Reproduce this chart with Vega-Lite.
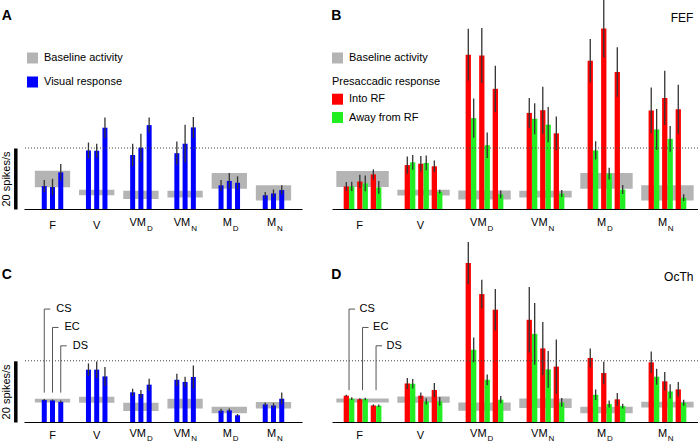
{
  "$schema": "https://vega.github.io/schema/vega-lite/v6.json",
  "padding": 0,
  "background": "white",
  "config": {
    "view": {"stroke": null},
    "font": "Liberation Sans",
    "text": {"font": "Liberation Sans", "fontSize": 11, "color": "#000"},
    "legend": {"labelFont": "Liberation Sans", "titleFont": "Liberation Sans", "labelLimit": 300}
  },
  "datasets": {
    "labels": [
      {"group": "F", "main": "F", "sub": ""},
      {"group": "V", "main": "V", "sub": ""},
      {"group": "VMD", "main": "VM", "sub": "D"},
      {"group": "VMN", "main": "VM", "sub": "N"},
      {"group": "MD", "main": "M", "sub": "D"},
      {"group": "MN", "main": "M", "sub": "N"}
    ],
    "aBars": [
      {"group": "F", "cond": "CS", "v": 7.5, "lo": 5.6, "hi": 9.5},
      {"group": "F", "cond": "EC", "v": 7.2, "lo": 4.5, "hi": 9.9},
      {"group": "F", "cond": "DS", "v": 12.0, "lo": 9.25, "hi": 14.75},
      {"group": "V", "cond": "CS", "v": 19.2, "lo": 16.6, "hi": 21.8},
      {"group": "V", "cond": "EC", "v": 19.1, "lo": 16.8, "hi": 21.4},
      {"group": "V", "cond": "DS", "v": 26.65, "lo": 23.3, "hi": 30.0},
      {"group": "VMD", "cond": "CS", "v": 17.7, "lo": 14.0, "hi": 21.4},
      {"group": "VMD", "cond": "EC", "v": 20.1, "lo": 15.5, "hi": 24.7},
      {"group": "VMD", "cond": "DS", "v": 27.5, "lo": 25.0, "hi": 30.0},
      {"group": "VMN", "cond": "CS", "v": 18.3, "lo": 14.5, "hi": 22.1},
      {"group": "VMN", "cond": "EC", "v": 21.4, "lo": 15.2, "hi": 27.6},
      {"group": "VMN", "cond": "DS", "v": 26.75, "lo": 23.3, "hi": 30.2},
      {"group": "MD", "cond": "CS", "v": 7.75, "lo": 6.0, "hi": 9.5},
      {"group": "MD", "cond": "EC", "v": 9.2, "lo": 6.6, "hi": 11.8},
      {"group": "MD", "cond": "DS", "v": 8.6, "lo": 6.5, "hi": 10.7},
      {"group": "MN", "cond": "CS", "v": 4.5, "lo": 3.4, "hi": 5.6},
      {"group": "MN", "cond": "EC", "v": 5.1, "lo": 3.8, "hi": 6.4},
      {"group": "MN", "cond": "DS", "v": 6.2, "lo": 4.7, "hi": 7.75}
    ],
    "aBase": [
      {"group": "F", "lo": 7.1, "hi": 12.5},
      {"group": "V", "lo": 4.5, "hi": 6.3},
      {"group": "VMD", "lo": 3.3, "hi": 6.0},
      {"group": "VMN", "lo": 3.8, "hi": 6.0},
      {"group": "MD", "lo": 6.6, "hi": 11.8},
      {"group": "MN", "lo": 2.8, "hi": 7.75}
    ],
    "bBars": [
      {"group": "F", "k": "CS into", "dir": "Into RF", "v": 7.4, "lo": 5.95, "hi": 8.85},
      {"group": "F", "k": "CS away", "dir": "Away from RF", "v": 7.4, "lo": 5.9, "hi": 8.9},
      {"group": "F", "k": "EC into", "dir": "Into RF", "v": 9.05, "lo": 6.85, "hi": 11.25},
      {"group": "F", "k": "EC away", "dir": "Away from RF", "v": 8.4, "lo": 5.8, "hi": 11.0},
      {"group": "F", "k": "DS into", "dir": "Into RF", "v": 11.35, "lo": 9.7, "hi": 13.0},
      {"group": "F", "k": "DS away", "dir": "Away from RF", "v": 7.1, "lo": 5.0, "hi": 9.2},
      {"group": "V", "k": "CS into", "dir": "Into RF", "v": 14.4, "lo": 11.55, "hi": 17.25},
      {"group": "V", "k": "CS away", "dir": "Away from RF", "v": 15.3, "lo": 12.9, "hi": 17.7},
      {"group": "V", "k": "EC into", "dir": "Into RF", "v": 14.85, "lo": 12.3, "hi": 17.4},
      {"group": "V", "k": "EC away", "dir": "Away from RF", "v": 15.1, "lo": 12.7, "hi": 17.5},
      {"group": "V", "k": "DS into", "dir": "Into RF", "v": 14.0, "lo": 12.1, "hi": 15.9},
      {"group": "V", "k": "DS away", "dir": "Away from RF", "v": 5.7, "lo": 5.1, "hi": 6.3},
      {"group": "VMD", "k": "CS into", "dir": "Into RF", "v": 50.6, "lo": 42.1, "hi": 59.1},
      {"group": "VMD", "k": "CS away", "dir": "Away from RF", "v": 29.8, "lo": 23.4, "hi": 36.2},
      {"group": "VMD", "k": "EC into", "dir": "Into RF", "v": 50.3, "lo": 41.3, "hi": 59.3},
      {"group": "VMD", "k": "EC away", "dir": "Away from RF", "v": 20.9, "lo": 16.7, "hi": 25.1},
      {"group": "VMD", "k": "DS into", "dir": "Into RF", "v": 39.4, "lo": 31.8, "hi": 47.0},
      {"group": "VMD", "k": "DS away", "dir": "Away from RF", "v": 4.8, "lo": 3.5, "hi": 6.1},
      {"group": "VMN", "k": "CS into", "dir": "Into RF", "v": 31.5, "lo": 26.6, "hi": 36.4},
      {"group": "VMN", "k": "CS away", "dir": "Away from RF", "v": 29.6, "lo": 24.5, "hi": 34.7},
      {"group": "VMN", "k": "EC into", "dir": "Into RF", "v": 32.4, "lo": 24.7, "hi": 40.1},
      {"group": "VMN", "k": "EC away", "dir": "Away from RF", "v": 27.65, "lo": 21.9, "hi": 33.4},
      {"group": "VMN", "k": "DS into", "dir": "Into RF", "v": 24.8, "lo": 19.3, "hi": 30.3},
      {"group": "VMN", "k": "DS away", "dir": "Away from RF", "v": 5.05, "lo": 3.9, "hi": 6.2},
      {"group": "MD", "k": "CS into", "dir": "Into RF", "v": 48.6, "lo": 41.5, "hi": 55.7},
      {"group": "MD", "k": "CS away", "dir": "Away from RF", "v": 19.2, "lo": 16.2, "hi": 22.2},
      {"group": "MD", "k": "EC into", "dir": "Into RF", "v": 59.2, "lo": 49.7, "hi": 70.0},
      {"group": "MD", "k": "EC away", "dir": "Away from RF", "v": 11.6, "lo": 9.7, "hi": 13.5},
      {"group": "MD", "k": "DS into", "dir": "Into RF", "v": 44.9, "lo": 36.8, "hi": 53.0},
      {"group": "MD", "k": "DS away", "dir": "Away from RF", "v": 6.4, "lo": 4.9, "hi": 7.9},
      {"group": "MN", "k": "CS into", "dir": "Into RF", "v": 32.3, "lo": 24.8, "hi": 39.8},
      {"group": "MN", "k": "CS away", "dir": "Away from RF", "v": 26.1, "lo": 19.4, "hi": 32.8},
      {"group": "MN", "k": "EC into", "dir": "Into RF", "v": 36.4, "lo": 27.5, "hi": 45.3},
      {"group": "MN", "k": "EC away", "dir": "Away from RF", "v": 23.0, "lo": 18.8, "hi": 27.2},
      {"group": "MN", "k": "DS into", "dir": "Into RF", "v": 32.7, "lo": 24.7, "hi": 40.7},
      {"group": "MN", "k": "DS away", "dir": "Away from RF", "v": 3.7, "lo": 2.6, "hi": 4.8}
    ],
    "bBase": [
      {"group": "F", "lo": 7.2, "hi": 12.45},
      {"group": "V", "lo": 4.4, "hi": 6.3},
      {"group": "VMD", "lo": 3.15, "hi": 6.1},
      {"group": "VMN", "lo": 3.8, "hi": 6.0},
      {"group": "MD", "lo": 6.65, "hi": 11.8},
      {"group": "MN", "lo": 2.8, "hi": 7.75}
    ],
    "cBars": [
      {"group": "F", "cond": "CS", "v": 7.2, "lo": 6.9, "hi": 7.5},
      {"group": "F", "cond": "EC", "v": 7.05, "lo": 6.75, "hi": 7.35},
      {"group": "F", "cond": "DS", "v": 6.6, "lo": 6.2, "hi": 7.0},
      {"group": "V", "cond": "CS", "v": 17.1, "lo": 15.1, "hi": 19.15},
      {"group": "V", "cond": "EC", "v": 17.1, "lo": 14.4, "hi": 19.8},
      {"group": "V", "cond": "DS", "v": 14.9, "lo": 11.8, "hi": 18.0},
      {"group": "VMD", "cond": "CS", "v": 9.7, "lo": 8.5, "hi": 10.9},
      {"group": "VMD", "cond": "EC", "v": 9.15, "lo": 7.85, "hi": 10.45},
      {"group": "VMD", "cond": "DS", "v": 12.2, "lo": 10.25, "hi": 14.15},
      {"group": "VMN", "cond": "CS", "v": 13.8, "lo": 11.8, "hi": 15.8},
      {"group": "VMN", "cond": "EC", "v": 13.1, "lo": 11.4, "hi": 14.8},
      {"group": "VMN", "cond": "DS", "v": 14.7, "lo": 10.9, "hi": 18.5},
      {"group": "MD", "cond": "CS", "v": 3.7, "lo": 3.05, "hi": 4.35},
      {"group": "MD", "cond": "EC", "v": 3.8, "lo": 3.15, "hi": 4.45},
      {"group": "MD", "cond": "DS", "v": 2.2, "lo": 1.8, "hi": 2.6},
      {"group": "MN", "cond": "CS", "v": 5.75, "lo": 5.1, "hi": 6.4},
      {"group": "MN", "cond": "EC", "v": 5.4, "lo": 4.6, "hi": 6.2},
      {"group": "MN", "cond": "DS", "v": 7.6, "lo": 5.6, "hi": 9.6}
    ],
    "cBase": [
      {"group": "F", "lo": 6.4, "hi": 7.6},
      {"group": "V", "lo": 6.3, "hi": 8.27},
      {"group": "VMD", "lo": 3.6, "hi": 6.3},
      {"group": "VMN", "lo": 4.45, "hi": 7.6},
      {"group": "MD", "lo": 2.9, "hi": 5.0},
      {"group": "MN", "lo": 4.45, "hi": 6.5}
    ],
    "dBars": [
      {"group": "F", "k": "CS into", "dir": "Into RF", "v": 8.6, "lo": 8.3, "hi": 8.9},
      {"group": "F", "k": "CS away", "dir": "Away from RF", "v": 7.6, "lo": 7.2, "hi": 8.05},
      {"group": "F", "k": "EC into", "dir": "Into RF", "v": 7.4, "lo": 7.0, "hi": 7.8},
      {"group": "F", "k": "EC away", "dir": "Away from RF", "v": 7.5, "lo": 7.1, "hi": 7.9},
      {"group": "F", "k": "DS into", "dir": "Into RF", "v": 5.4, "lo": 5.05, "hi": 5.75},
      {"group": "F", "k": "DS away", "dir": "Away from RF", "v": 5.3, "lo": 4.9, "hi": 5.7},
      {"group": "V", "k": "CS into", "dir": "Into RF", "v": 12.6, "lo": 10.8, "hi": 14.4},
      {"group": "V", "k": "CS away", "dir": "Away from RF", "v": 12.5, "lo": 10.95, "hi": 14.05},
      {"group": "V", "k": "EC into", "dir": "Into RF", "v": 8.6, "lo": 7.6, "hi": 9.6},
      {"group": "V", "k": "EC away", "dir": "Away from RF", "v": 6.75, "lo": 5.7, "hi": 7.8},
      {"group": "V", "k": "DS into", "dir": "Into RF", "v": 10.45, "lo": 8.15, "hi": 12.75},
      {"group": "V", "k": "DS away", "dir": "Away from RF", "v": 6.75, "lo": 5.3, "hi": 8.2},
      {"group": "VMD", "k": "CS into", "dir": "Into RF", "v": 51.95, "lo": 45.05, "hi": 58.85},
      {"group": "VMD", "k": "CS away", "dir": "Away from RF", "v": 23.6, "lo": 19.55, "hi": 27.65},
      {"group": "VMD", "k": "EC into", "dir": "Into RF", "v": 41.8, "lo": 37.1, "hi": 46.5},
      {"group": "VMD", "k": "EC away", "dir": "Away from RF", "v": 13.8, "lo": 12.05, "hi": 15.55},
      {"group": "VMD", "k": "DS into", "dir": "Into RF", "v": 36.7, "lo": 29.9, "hi": 43.5},
      {"group": "VMD", "k": "DS away", "dir": "Away from RF", "v": 7.3, "lo": 6.1, "hi": 8.5},
      {"group": "VMN", "k": "CS into", "dir": "Into RF", "v": 33.4, "lo": 22.7, "hi": 44.1},
      {"group": "VMN", "k": "CS away", "dir": "Away from RF", "v": 28.8, "lo": 18.7, "hi": 38.9},
      {"group": "VMN", "k": "EC into", "dir": "Into RF", "v": 24.05, "lo": 15.4, "hi": 32.7},
      {"group": "VMN", "k": "EC away", "dir": "Away from RF", "v": 17.2, "lo": 11.2, "hi": 23.2},
      {"group": "VMN", "k": "DS into", "dir": "Into RF", "v": 18.1, "lo": 9.2, "hi": 27.0},
      {"group": "VMN", "k": "DS away", "dir": "Away from RF", "v": 6.4, "lo": 4.95, "hi": 7.85},
      {"group": "MD", "k": "CS into", "dir": "Into RF", "v": 20.9, "lo": 17.8, "hi": 24.0},
      {"group": "MD", "k": "CS away", "dir": "Away from RF", "v": 8.9, "lo": 7.15, "hi": 10.65},
      {"group": "MD", "k": "EC into", "dir": "Into RF", "v": 16.0, "lo": 12.3, "hi": 19.7},
      {"group": "MD", "k": "EC away", "dir": "Away from RF", "v": 5.9, "lo": 4.75, "hi": 7.05},
      {"group": "MD", "k": "DS into", "dir": "Into RF", "v": 7.4, "lo": 5.3, "hi": 9.5},
      {"group": "MD", "k": "DS away", "dir": "Away from RF", "v": 5.2, "lo": 4.4, "hi": 6.0},
      {"group": "MN", "k": "CS into", "dir": "Into RF", "v": 19.5, "lo": 16.0, "hi": 23.0},
      {"group": "MN", "k": "CS away", "dir": "Away from RF", "v": 14.8, "lo": 12.2, "hi": 17.4},
      {"group": "MN", "k": "EC into", "dir": "Into RF", "v": 13.3, "lo": 10.3, "hi": 16.3},
      {"group": "MN", "k": "EC away", "dir": "Away from RF", "v": 10.0, "lo": 7.7, "hi": 12.3},
      {"group": "MN", "k": "DS into", "dir": "Into RF", "v": 10.65, "lo": 8.25, "hi": 13.05},
      {"group": "MN", "k": "DS away", "dir": "Away from RF", "v": 6.3, "lo": 5.3, "hi": 7.3}
    ],
    "dBase": [
      {"group": "F", "lo": 6.4, "hi": 7.7},
      {"group": "V", "lo": 6.3, "hi": 8.3},
      {"group": "VMD", "lo": 3.7, "hi": 6.4},
      {"group": "VMN", "lo": 4.6, "hi": 7.7},
      {"group": "MD", "lo": 2.9, "hi": 5.0},
      {"group": "MN", "lo": 4.7, "hi": 6.6}
    ],
    "annC": [
      {"group": "F", "cond": "CS", "bot": 9.6, "top": 36.9, "label": "CS"},
      {"group": "F", "cond": "EC", "bot": 9.6, "top": 30.9, "label": "EC"},
      {"group": "F", "cond": "DS", "bot": 9.6, "top": 24.9, "label": "DS"}
    ],
    "annD": [
      {"group": "F", "cond": "CS", "bot": 10.4, "top": 36.9, "label": "CS"},
      {"group": "F", "cond": "EC", "bot": 10.4, "top": 30.9, "label": "EC"},
      {"group": "F", "cond": "DS", "bot": 10.4, "top": 24.9, "label": "DS"}
    ]
  },
  "columns": 2,
  "spacing": {"row": 13, "column": 0},
  "bounds": "flush",
  "align": "each",
  "resolve": {
    "scale": {"color": "independent", "fill": "independent", "xOffset": "independent", "x": "independent", "y": "independent"},
    "legend": {"color": "independent", "fill": "independent"}
  },
  "concat": [
    {
      "width": 308,
      "height": 209,
      "resolve": {"scale": {"y": "independent"}, "axis": {"y": "independent"}},
      "layer": [
        {
          "layer": [
            {
              "data": {"name": "aBase"},
              "mark": {"type": "bar", "width": 35.3},
              "encoding": {
                "x": {"field": "group", "type": "nominal", "scale": {"domain": ["F", "V", "VMD", "VMN", "MD", "MN"], "range": [0, 278], "paddingInner": 0.44, "paddingOuter": 0.365}, "axis": {"labels": false, "ticks": false, "title": null, "grid": false, "domainColor": "#000", "domainWidth": 1}},
                "y": {"field": "lo", "type": "quantitative", "scale": {"domain": [0, 68.52], "nice": false, "zero": false}, "axis": null},
                "y2": {"field": "hi"},
                "color": {"datum": "Baseline activity", "type": "nominal", "scale": {"domain": ["Baseline activity", "Visual response"], "range": ["#b4b4b4", "#0000ff"]}, "legend": {"orient": "none", "legendX": 3, "legendY": 52.5, "title": null, "symbolType": "square", "symbolSize": 121, "symbolStrokeWidth": 0, "symbolOpacity": 1, "labelFontSize": 11, "labelColor": "#000", "labelOffset": 6, "rowPadding": 12, "padding": 0}}
              }
            },
            {
              "data": {"name": "aBars"},
              "mark": {"type": "bar", "width": 5},
              "encoding": {
                "x": {"field": "group", "type": "nominal"},
                "xOffset": {"field": "cond", "type": "nominal", "scale": {"domain": ["CS", "EC", "DS"], "paddingInner": 0, "paddingOuter": 0}},
                "y": {"field": "v", "type": "quantitative"},
                "color": {"datum": "Visual response", "type": "nominal"}
              }
            },
            {
              "data": {"name": "aBars"},
              "mark": {"type": "rule", "color": "#333", "strokeWidth": 1.3, "clip": true},
              "encoding": {
                "x": {"field": "group", "type": "nominal"},
                "xOffset": {"field": "cond", "type": "nominal"},
                "y": {"field": "lo", "type": "quantitative"},
                "y2": {"field": "hi"}
              }
            },
            {
              "data": {"name": "labels"},
              "transform": [{"filter": "datum.sub == ''"}],
              "mark": {"type": "text", "fontSize": 11, "align": "center", "baseline": "alphabetic", "dx": 0, "dy": 20},
              "encoding": {"x": {"field": "group", "type": "nominal"}, "y": {"datum": 0, "type": "quantitative"}, "text": {"field": "main"}}
            },
            {
              "data": {"name": "labels"},
              "transform": [{"filter": "datum.main == 'VM'"}],
              "mark": {"type": "text", "fontSize": 11, "align": "right", "baseline": "alphabetic", "dx": 5.1, "dy": 17.4},
              "encoding": {"x": {"field": "group", "type": "nominal"}, "y": {"datum": 0, "type": "quantitative"}, "text": {"field": "main"}}
            },
            {
              "data": {"name": "labels"},
              "transform": [{"filter": "datum.main == 'VM'"}],
              "mark": {"type": "text", "fontSize": 8, "align": "left", "baseline": "alphabetic", "dx": 6.1, "dy": 22.4},
              "encoding": {"x": {"field": "group", "type": "nominal"}, "y": {"datum": 0, "type": "quantitative"}, "text": {"field": "sub"}}
            },
            {
              "data": {"name": "labels"},
              "transform": [{"filter": "datum.main == 'M'"}],
              "mark": {"type": "text", "fontSize": 11, "align": "right", "baseline": "alphabetic", "dx": 2.7, "dy": 17.4},
              "encoding": {"x": {"field": "group", "type": "nominal"}, "y": {"datum": 0, "type": "quantitative"}, "text": {"field": "main"}}
            },
            {
              "data": {"name": "labels"},
              "transform": [{"filter": "datum.main == 'M'"}],
              "mark": {"type": "text", "fontSize": 8, "align": "left", "baseline": "alphabetic", "dx": 3.4, "dy": 22.4},
              "encoding": {"x": {"field": "group", "type": "nominal"}, "y": {"datum": 0, "type": "quantitative"}, "text": {"field": "sub"}}
            },
            {
              "data": {"values": [{"t": "A"}]},
              "mark": {"type": "text", "fontSize": 14, "fontWeight": "bold", "align": "left", "baseline": "alphabetic", "dx": -50.8},
              "encoding": {"x": {"datum": "F", "type": "nominal"}, "y": {"datum": 61.9, "type": "quantitative"}, "text": {"field": "t"}}
            }
          ]
        },
        {
          "data": {"values": [{}]},
          "mark": {"type": "rule", "strokeDash": [1, 2], "color": "#444", "strokeWidth": 1},
          "encoding": {
            "y": {"datum": 20, "type": "quantitative", "scale": {"domain": [0, 20], "range": [209, 148], "nice": false, "zero": false}, "axis": {"orient": "left", "offset": 8.7, "domain": true, "domainWidth": 3.5, "domainColor": "#000", "domainCap": "butt", "ticks": false, "labels": false, "grid": false, "title": "20 spikes/s", "titleFontSize": 11, "titleFontWeight": "normal", "titleColor": "#000", "titlePadding": 4}}
          }
        }
      ]
    },
    {
      "width": 366,
      "height": 209,
      "layer": [
        {
          "data": {"name": "bBase"},
          "mark": {"type": "bar", "width": 52.4},
          "encoding": {
            "x": {"field": "group", "type": "nominal", "scale": {"domain": ["F", "V", "VMD", "VMN", "MD", "MN"], "range": [0, 366], "paddingInner": 0.4236, "paddingOuter": 0.2126}, "axis": {"labels": false, "ticks": false, "title": null, "grid": false, "domainColor": "#000", "domainWidth": 1}},
            "y": {"field": "lo", "type": "quantitative", "scale": {"domain": [0, 68.52], "nice": false, "zero": false}, "axis": null},
            "y2": {"field": "hi"},
            "fill": {"datum": "Baseline activity", "type": "nominal", "scale": {"domain": ["Baseline activity"], "range": ["#b4b4b4"]}, "legend": {"orient": "none", "legendX": 0, "legendY": 52.5, "title": null, "symbolType": "square", "symbolSize": 121, "symbolStrokeWidth": 0, "symbolOpacity": 1, "labelFontSize": 11, "labelColor": "#000", "labelOffset": 6, "padding": 0}}
          }
        },
        {
          "data": {"name": "bBars"},
          "mark": {"type": "bar", "width": 5.3},
          "encoding": {
            "x": {"field": "group", "type": "nominal"},
            "xOffset": {"field": "k", "type": "nominal", "scale": {"domain": ["CS into", "CS", "CS away", "g1", "g2", "EC into", "EC", "EC away", "g3", "g4", "DS into", "DS", "DS away"], "paddingInner": 0, "paddingOuter": 0}},
            "y": {"field": "v", "type": "quantitative"},
            "color": {"field": "dir", "type": "nominal", "scale": {"domain": ["Into RF", "Away from RF"], "range": ["#ff0000", "#22ee22"]}, "legend": {"orient": "none", "legendX": 0, "legendY": 76.3, "title": "Presaccadic response", "titleFontSize": 11, "titleFontWeight": "normal", "titleColor": "#000", "titlePadding": 6.4, "symbolType": "square", "symbolSize": 121, "symbolStrokeWidth": 0, "symbolOpacity": 1, "labelFontSize": 11, "labelColor": "#000", "labelOffset": 6, "rowPadding": 6.3, "padding": 0}}
          }
        },
        {
          "data": {"name": "bBars"},
          "mark": {"type": "rule", "color": "#333", "strokeWidth": 1.3, "clip": true},
          "encoding": {
            "x": {"field": "group", "type": "nominal"},
            "xOffset": {"field": "k", "type": "nominal"},
            "y": {"field": "lo", "type": "quantitative"},
            "y2": {"field": "hi"}
          }
        },
        {
          "data": {"values": [{}]},
          "mark": {"type": "rule", "strokeDash": [1, 2], "color": "#444", "strokeWidth": 1},
          "encoding": {"y": {"datum": 20, "type": "quantitative"}}
        },
        {
          "data": {"name": "labels"},
          "transform": [{"filter": "datum.sub == ''"}],
          "mark": {"type": "text", "fontSize": 11, "align": "center", "baseline": "alphabetic", "dx": -3, "dy": 20},
          "encoding": {"x": {"field": "group", "type": "nominal"}, "y": {"datum": 0, "type": "quantitative"}, "text": {"field": "main"}}
        },
        {
          "data": {"name": "labels"},
          "transform": [{"filter": "datum.main == 'VM'"}],
          "mark": {"type": "text", "fontSize": 11, "align": "right", "baseline": "alphabetic", "dx": 2.1, "dy": 17.4},
          "encoding": {"x": {"field": "group", "type": "nominal"}, "y": {"datum": 0, "type": "quantitative"}, "text": {"field": "main"}}
        },
        {
          "data": {"name": "labels"},
          "transform": [{"filter": "datum.main == 'VM'"}],
          "mark": {"type": "text", "fontSize": 8, "align": "left", "baseline": "alphabetic", "dx": 3.1, "dy": 22.4},
          "encoding": {"x": {"field": "group", "type": "nominal"}, "y": {"datum": 0, "type": "quantitative"}, "text": {"field": "sub"}}
        },
        {
          "data": {"name": "labels"},
          "transform": [{"filter": "datum.main == 'M'"}],
          "mark": {"type": "text", "fontSize": 11, "align": "right", "baseline": "alphabetic", "dx": -0.3, "dy": 17.4},
          "encoding": {"x": {"field": "group", "type": "nominal"}, "y": {"datum": 0, "type": "quantitative"}, "text": {"field": "main"}}
        },
        {
          "data": {"name": "labels"},
          "transform": [{"filter": "datum.main == 'M'"}],
          "mark": {"type": "text", "fontSize": 8, "align": "left", "baseline": "alphabetic", "dx": 0.4, "dy": 22.4},
          "encoding": {"x": {"field": "group", "type": "nominal"}, "y": {"datum": 0, "type": "quantitative"}, "text": {"field": "sub"}}
        },
        {
          "data": {"values": [{"t": "B"}]},
          "mark": {"type": "text", "fontSize": 14, "fontWeight": "bold", "align": "left", "baseline": "alphabetic", "dx": -31.2},
          "encoding": {"x": {"datum": "F", "type": "nominal"}, "y": {"datum": 61.9, "type": "quantitative"}, "text": {"field": "t"}}
        },
        {
          "data": {"values": [{"t": "FEF"}]},
          "mark": {"type": "text", "fontSize": 12, "align": "right", "baseline": "alphabetic", "dx": 26},
          "encoding": {"x": {"datum": "MN", "type": "nominal"}, "y": {"datum": 61.4, "type": "quantitative"}, "text": {"field": "t"}}
        }
      ]
    },
    {
      "width": 308,
      "height": 200,
      "resolve": {"scale": {"y": "independent"}, "axis": {"y": "independent"}},
      "layer": [
        {
          "layer": [
            {
              "data": {"name": "cBase"},
              "mark": {"type": "bar", "width": 35.3, "color": "#b4b4b4"},
              "encoding": {
                "x": {"field": "group", "type": "nominal", "scale": {"domain": ["F", "V", "VMD", "VMN", "MD", "MN"], "range": [0, 278], "paddingInner": 0.44, "paddingOuter": 0.365}, "axis": {"labels": false, "ticks": false, "title": null, "grid": false, "domainColor": "#000", "domainWidth": 1}},
                "y": {"field": "lo", "type": "quantitative", "scale": {"domain": [0, 65.36], "nice": false, "zero": false}, "axis": null},
                "y2": {"field": "hi"}
              }
            },
            {
              "data": {"name": "cBars"},
              "mark": {"type": "bar", "width": 5, "color": "#0000ff"},
              "encoding": {
                "x": {"field": "group", "type": "nominal"},
                "xOffset": {"field": "cond", "type": "nominal", "scale": {"domain": ["CS", "EC", "DS"], "paddingInner": 0, "paddingOuter": 0}},
                "y": {"field": "v", "type": "quantitative"}
              }
            },
            {
              "data": {"name": "cBars"},
              "mark": {"type": "rule", "color": "#333", "strokeWidth": 1.3},
              "encoding": {
                "x": {"field": "group", "type": "nominal"},
                "xOffset": {"field": "cond", "type": "nominal"},
                "y": {"field": "lo", "type": "quantitative"},
                "y2": {"field": "hi"}
              }
            },
            {
              "data": {"name": "annC"},
              "mark": {"type": "rule", "color": "#555", "strokeWidth": 1},
              "encoding": {
                "x": {"field": "group", "type": "nominal"},
                "xOffset": {"field": "cond", "type": "nominal"},
                "y": {"field": "bot", "type": "quantitative"},
                "y2": {"field": "top"}
              }
            },
            {
              "data": {"name": "annC"},
              "mark": {"type": "point", "shape": "M0,0H1", "size": 144, "filled": false, "stroke": "#555", "strokeWidth": 1, "opacity": 1},
              "encoding": {
                "x": {"field": "group", "type": "nominal"},
                "xOffset": {"field": "cond", "type": "nominal"},
                "y": {"field": "top", "type": "quantitative"}
              }
            },
            {
              "data": {"name": "annC"},
              "mark": {"type": "text", "fontSize": 11, "align": "left", "baseline": "middle", "dx": 12},
              "encoding": {
                "x": {"field": "group", "type": "nominal"},
                "xOffset": {"field": "cond", "type": "nominal"},
                "y": {"field": "top", "type": "quantitative"},
                "text": {"field": "label"}
              }
            },
            {
              "data": {"name": "labels"},
              "transform": [{"filter": "datum.sub == ''"}],
              "mark": {"type": "text", "fontSize": 11, "align": "center", "baseline": "alphabetic", "dx": 0, "dy": 17.3},
              "encoding": {"x": {"field": "group", "type": "nominal"}, "y": {"datum": 0, "type": "quantitative"}, "text": {"field": "main"}}
            },
            {
              "data": {"name": "labels"},
              "transform": [{"filter": "datum.main == 'VM'"}],
              "mark": {"type": "text", "fontSize": 11, "align": "right", "baseline": "alphabetic", "dx": 5.1, "dy": 14.6},
              "encoding": {"x": {"field": "group", "type": "nominal"}, "y": {"datum": 0, "type": "quantitative"}, "text": {"field": "main"}}
            },
            {
              "data": {"name": "labels"},
              "transform": [{"filter": "datum.main == 'VM'"}],
              "mark": {"type": "text", "fontSize": 8, "align": "left", "baseline": "alphabetic", "dx": 6.1, "dy": 19.3},
              "encoding": {"x": {"field": "group", "type": "nominal"}, "y": {"datum": 0, "type": "quantitative"}, "text": {"field": "sub"}}
            },
            {
              "data": {"name": "labels"},
              "transform": [{"filter": "datum.main == 'M'"}],
              "mark": {"type": "text", "fontSize": 11, "align": "right", "baseline": "alphabetic", "dx": 2.7, "dy": 14.6},
              "encoding": {"x": {"field": "group", "type": "nominal"}, "y": {"datum": 0, "type": "quantitative"}, "text": {"field": "main"}}
            },
            {
              "data": {"name": "labels"},
              "transform": [{"filter": "datum.main == 'M'"}],
              "mark": {"type": "text", "fontSize": 8, "align": "left", "baseline": "alphabetic", "dx": 3.4, "dy": 19.3},
              "encoding": {"x": {"field": "group", "type": "nominal"}, "y": {"datum": 0, "type": "quantitative"}, "text": {"field": "sub"}}
            },
            {
              "data": {"values": [{"t": "C"}]},
              "mark": {"type": "text", "fontSize": 14, "fontWeight": "bold", "align": "left", "baseline": "alphabetic", "dx": -50.8},
              "encoding": {"x": {"datum": "F", "type": "nominal"}, "y": {"datum": 46.7, "type": "quantitative"}, "text": {"field": "t"}}
            }
          ]
        },
        {
          "data": {"values": [{}]},
          "mark": {"type": "rule", "strokeDash": [1, 2], "color": "#444", "strokeWidth": 1},
          "encoding": {
            "y": {"datum": 20, "type": "quantitative", "scale": {"domain": [0, 20], "range": [200, 138.8], "nice": false, "zero": false}, "axis": {"orient": "left", "offset": 8.7, "domain": true, "domainWidth": 3.5, "domainColor": "#000", "domainCap": "butt", "ticks": false, "labels": false, "grid": false, "title": "20 spikes/s", "titleFontSize": 11, "titleFontWeight": "normal", "titleColor": "#000", "titlePadding": 4}}
          }
        }
      ]
    },
    {
      "width": 366,
      "height": 200,
      "layer": [
        {
          "data": {"name": "dBase"},
          "mark": {"type": "bar", "width": 52.4, "color": "#b4b4b4"},
          "encoding": {
            "x": {"field": "group", "type": "nominal", "scale": {"domain": ["F", "V", "VMD", "VMN", "MD", "MN"], "range": [0, 366], "paddingInner": 0.4236, "paddingOuter": 0.2126}, "axis": {"labels": false, "ticks": false, "title": null, "grid": false, "domainColor": "#000", "domainWidth": 1}},
            "y": {"field": "lo", "type": "quantitative", "scale": {"domain": [0, 65.36], "nice": false, "zero": false}, "axis": null},
            "y2": {"field": "hi"}
          }
        },
        {
          "data": {"name": "dBars"},
          "mark": {"type": "bar", "width": 5.3},
          "encoding": {
            "x": {"field": "group", "type": "nominal"},
            "xOffset": {"field": "k", "type": "nominal", "scale": {"domain": ["CS into", "CS", "CS away", "g1", "g2", "EC into", "EC", "EC away", "g3", "g4", "DS into", "DS", "DS away"], "paddingInner": 0, "paddingOuter": 0}},
            "y": {"field": "v", "type": "quantitative"},
            "color": {"field": "dir", "type": "nominal", "scale": {"domain": ["Into RF", "Away from RF"], "range": ["#ff0000", "#22ee22"]}, "legend": null}
          }
        },
        {
          "data": {"name": "dBars"},
          "mark": {"type": "rule", "color": "#333", "strokeWidth": 1.3},
          "encoding": {
            "x": {"field": "group", "type": "nominal"},
            "xOffset": {"field": "k", "type": "nominal"},
            "y": {"field": "lo", "type": "quantitative"},
            "y2": {"field": "hi"}
          }
        },
        {
          "data": {"values": [{}]},
          "mark": {"type": "rule", "strokeDash": [1, 2], "color": "#444", "strokeWidth": 1},
          "encoding": {"y": {"datum": 20, "type": "quantitative"}}
        },
        {
          "data": {"name": "annD"},
          "mark": {"type": "rule", "color": "#555", "strokeWidth": 1},
          "encoding": {
            "x": {"field": "group", "type": "nominal"},
            "xOffset": {"field": "cond", "type": "nominal"},
            "y": {"field": "bot", "type": "quantitative"},
            "y2": {"field": "top"}
          }
        },
        {
          "data": {"name": "annD"},
          "mark": {"type": "point", "shape": "M0,0H1", "size": 144, "filled": false, "stroke": "#555", "strokeWidth": 1, "opacity": 1},
          "encoding": {
            "x": {"field": "group", "type": "nominal"},
            "xOffset": {"field": "cond", "type": "nominal"},
            "y": {"field": "top", "type": "quantitative"}
          }
        },
        {
          "data": {"name": "annD"},
          "mark": {"type": "text", "fontSize": 11, "align": "left", "baseline": "middle", "dx": 10.5},
          "encoding": {
            "x": {"field": "group", "type": "nominal"},
            "xOffset": {"field": "cond", "type": "nominal"},
            "y": {"field": "top", "type": "quantitative"},
            "text": {"field": "label"}
          }
        },
        {
          "data": {"name": "labels"},
          "transform": [{"filter": "datum.sub == ''"}],
          "mark": {"type": "text", "fontSize": 11, "align": "center", "baseline": "alphabetic", "dx": -3, "dy": 17.3},
          "encoding": {"x": {"field": "group", "type": "nominal"}, "y": {"datum": 0, "type": "quantitative"}, "text": {"field": "main"}}
        },
        {
          "data": {"name": "labels"},
          "transform": [{"filter": "datum.main == 'VM'"}],
          "mark": {"type": "text", "fontSize": 11, "align": "right", "baseline": "alphabetic", "dx": 2.1, "dy": 14.6},
          "encoding": {"x": {"field": "group", "type": "nominal"}, "y": {"datum": 0, "type": "quantitative"}, "text": {"field": "main"}}
        },
        {
          "data": {"name": "labels"},
          "transform": [{"filter": "datum.main == 'VM'"}],
          "mark": {"type": "text", "fontSize": 8, "align": "left", "baseline": "alphabetic", "dx": 3.1, "dy": 19.3},
          "encoding": {"x": {"field": "group", "type": "nominal"}, "y": {"datum": 0, "type": "quantitative"}, "text": {"field": "sub"}}
        },
        {
          "data": {"name": "labels"},
          "transform": [{"filter": "datum.main == 'M'"}],
          "mark": {"type": "text", "fontSize": 11, "align": "right", "baseline": "alphabetic", "dx": -0.3, "dy": 14.6},
          "encoding": {"x": {"field": "group", "type": "nominal"}, "y": {"datum": 0, "type": "quantitative"}, "text": {"field": "main"}}
        },
        {
          "data": {"name": "labels"},
          "transform": [{"filter": "datum.main == 'M'"}],
          "mark": {"type": "text", "fontSize": 8, "align": "left", "baseline": "alphabetic", "dx": 0.4, "dy": 19.3},
          "encoding": {"x": {"field": "group", "type": "nominal"}, "y": {"datum": 0, "type": "quantitative"}, "text": {"field": "sub"}}
        },
        {
          "data": {"values": [{"t": "D"}]},
          "mark": {"type": "text", "fontSize": 14, "fontWeight": "bold", "align": "left", "baseline": "alphabetic", "dx": -31.2},
          "encoding": {"x": {"datum": "F", "type": "nominal"}, "y": {"datum": 46.7, "type": "quantitative"}, "text": {"field": "t"}}
        },
        {
          "data": {"values": [{"t": "OcTh"}]},
          "mark": {"type": "text", "fontSize": 12, "align": "right", "baseline": "alphabetic", "dx": 26},
          "encoding": {"x": {"datum": "MN", "type": "nominal"}, "y": {"datum": 46.2, "type": "quantitative"}, "text": {"field": "t"}}
        }
      ]
    }
  ]
}
